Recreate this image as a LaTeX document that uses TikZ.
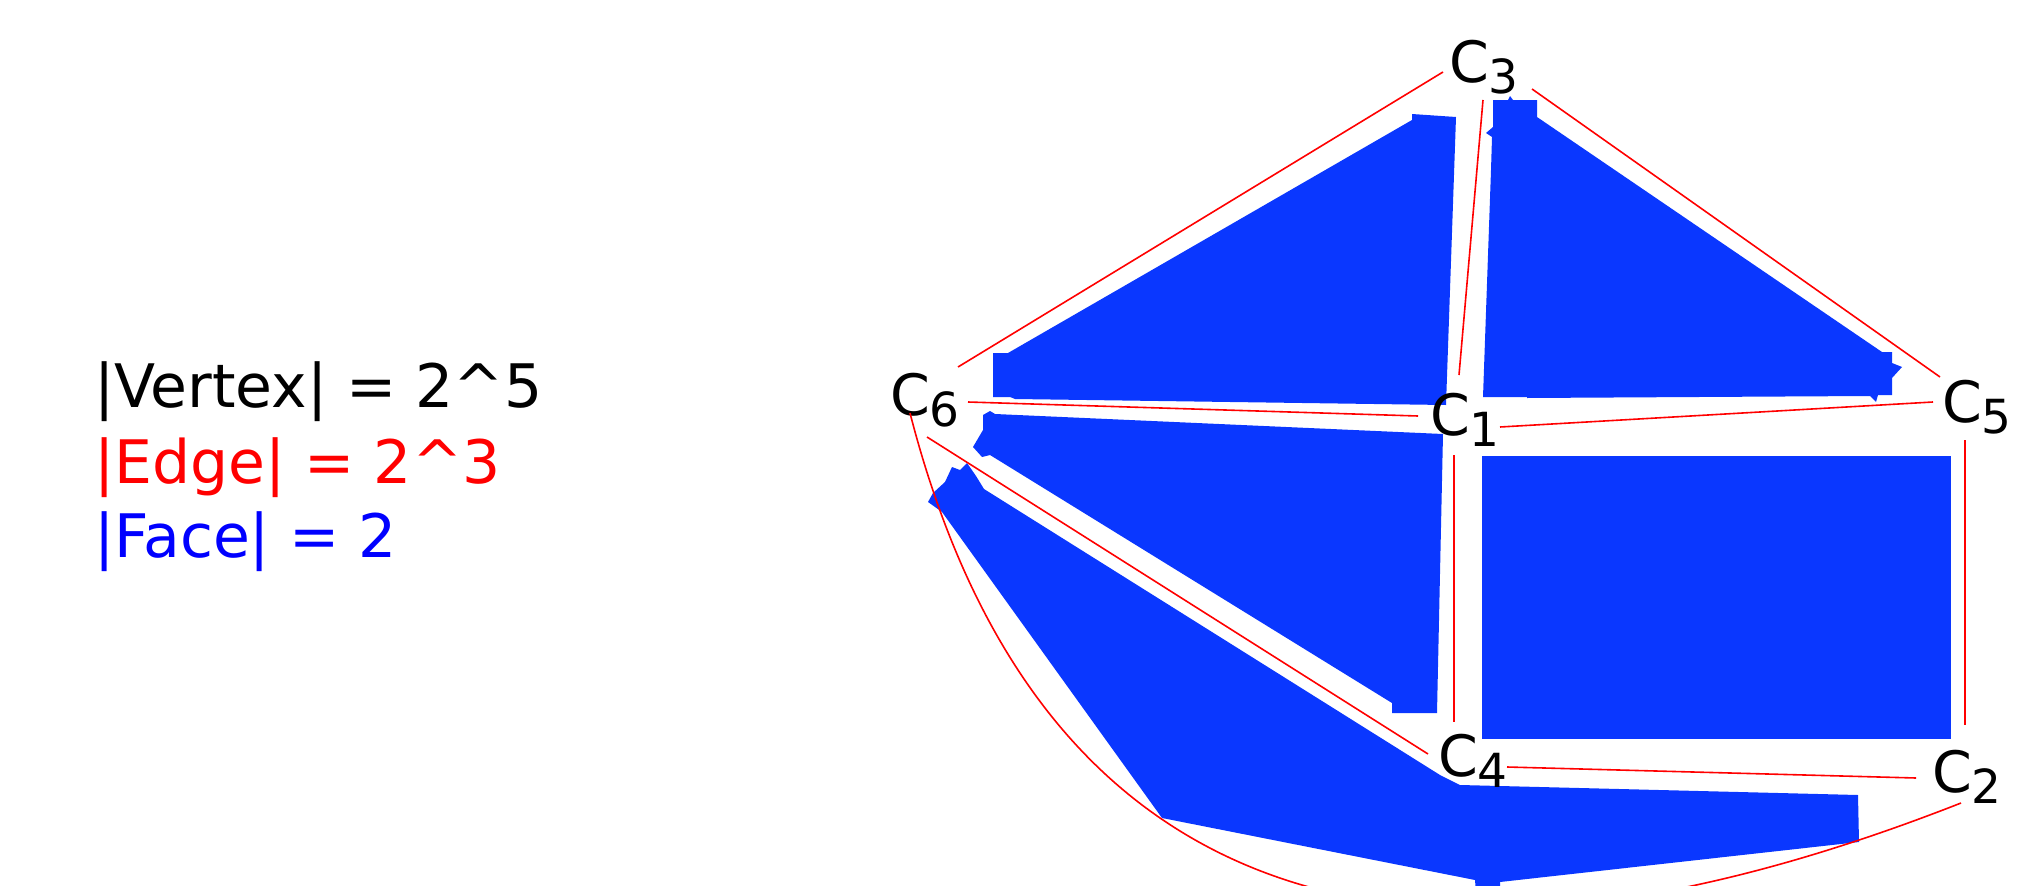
\documentclass[tikz,border=0pt]{standalone}
\usepackage{fontspec}
\setmainfont{DejaVu Sans}
\definecolor{facecol}{RGB}{10,55,255}
\definecolor{edgered}{RGB}{255,0,0}
\definecolor{txtblue}{RGB}{0,0,255}
\newcommand\vlab[1]{C\raisebox{-11pt}{\fontsize{47}{50}\selectfont #1}}
\begin{document}
\begin{tikzpicture}[x=1pt,y=-1pt,
  edge/.style={draw=edgered,line width=1.6pt},
  face/.style={fill=facecol,draw=none},
  vlabel/.style={anchor=base west,inner sep=0pt,outer sep=0pt,font=\fontsize{57}{60}\selectfont},
  info/.style={anchor=base west,inner sep=0pt,outer sep=0pt,font=\fontsize{60}{72}\selectfont}]
\useasboundingbox (0,0) rectangle (2030,886);

% faces
\fill[face] (993,353) -- (1008,353) -- (1412,120) -- (1412,114) -- (1456,117) -- (1446,405)
  -- (1015,399) -- (1010,397) -- (993,397) -- cycle;
\fill[face] (983,415) -- (990,411) -- (995,414) -- (1443,434) -- (1437,713) -- (1392,713)
  -- (1392,703) -- (990,455) -- (982,457) -- (973,447) -- (983,430) -- cycle;
\fill[face] (1493,100) -- (1508,100) -- (1510,96) -- (1513,100) -- (1537,100) -- (1537,117)
  -- (1882,352) -- (1892,352) -- (1892,363) -- (1902,367) -- (1892,378) -- (1892,395)
  -- (1878,395) -- (1876,402) -- (1870,396) -- (1527,398) -- (1527,397) -- (1483,397)
  -- (1491,170) -- (1492,137) -- (1486,133) -- (1493,127) -- cycle;
\fill[face] (1482,456) rectangle (1951,739);
\fill[face] (928,502) -- (933,493) -- (945,482) -- (952,467) -- (960,470) -- (967,463)
  -- (976,476) -- (984,489) -- (1440,775) -- (1460,785) -- (1858,795) -- (1859,842)
  -- (1500,882) -- (1500,892) -- (1476,892) -- (1475,880) -- (1162,818) -- (942,512) -- cycle;

% vertex labels
\node[vlabel] (c3) at (1449,82) {\vlab{3}};
\node[vlabel] (c6) at (890,415) {\vlab{6}};
\node[vlabel] (c1) at (1430,435) {\vlab{1}};
\node[vlabel] (c5) at (1942,422) {\vlab{5}};
\node[vlabel] (c4) at (1438,776) {\vlab{4}};
\node[vlabel] (c2) at (1932,792) {\vlab{2}};

% edge end points
\coordinate (p63) at (958,367);  \coordinate (p36) at (1443,72);
\coordinate (p35) at (1532,89);  \coordinate (p53) at (1940,377);
\coordinate (p31) at (1483,100); \coordinate (p13) at (1459,375);
\coordinate (p61) at (968,402);  \coordinate (p16) at (1418,416);
\coordinate (p15) at (1500,427); \coordinate (p51) at (1933,402);
\coordinate (p14) at (1454,455); \coordinate (p41) at (1454,722);
\coordinate (p64) at (927,437);  \coordinate (p46) at (1428,754);
\coordinate (p42) at (1507,767); \coordinate (p24) at (1916,778);
\coordinate (p52) at (1965,440); \coordinate (p25) at (1965,725);
\coordinate (p62) at (910,413);  \coordinate (p26) at (1961,803);

% edges
\draw[edge] (p63) -- (p36);
\draw[edge] (p35) -- (p53);
\draw[edge] (p31) -- (p13);
\draw[edge] (p61) -- (p16);
\draw[edge] (p15) -- (p51);
\draw[edge] (p14) -- (p41);
\draw[edge] (p64) -- (p46);
\draw[edge] (p42) -- (p24);
\draw[edge] (p52) -- (p25);
\draw[edge] (p62) .. controls (1047,945) and (1449,1004) .. (p26);

% info text
\node[info] (tv) at (94,407) {|Vertex| = 2\textasciicircum 5};
\node[info,text=edgered] (te) at (94,483) {|Edge| = 2\textasciicircum 3};
\node[info,text=txtblue] (tf) at (94,557) {|Face| = 2};
\end{tikzpicture}
\end{document}
